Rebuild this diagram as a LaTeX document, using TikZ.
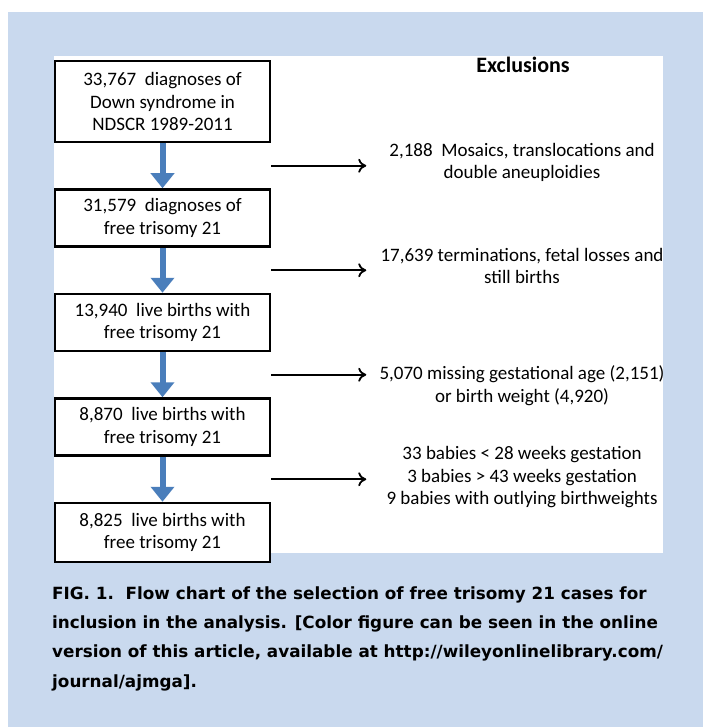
\documentclass[tikz,border=0pt]{standalone}
\usepackage{fontspec}
\setmainfont{Carlito}
\newfontfamily\capfont{DejaVu Sans}
\usepackage{tikz}
\usetikzlibrary{arrows.meta, positioning, calc}
\definecolor{panelblue}{RGB}{201, 217, 238}
\definecolor{flowblue}{RGB}{74, 126, 187}
\tikzstyle{stage} = [rectangle, draw=black, line width=2.5pt, fill=white, minimum width=215pt, minimum height=57pt, align=center, inner sep=0pt]
\tikzstyle{excl} = [align=center]
\tikzstyle{flow} = [draw=flowblue, line width=6pt, -{Triangle[width=23pt,length=15pt]}]
\tikzstyle{arrow} = [line width=1.8pt, -{To[length=8pt,width=14pt]}]

\begin{document}
\begin{tikzpicture}[x=1pt, y=-1pt, node distance=45pt, font=\fontsize{19}{22.5}\selectfont]

\useasboundingbox (0,0) rectangle (703,727);

% Background and panel
\fill[panelblue] (8,12) rectangle (703,727);
\fill[white] (54,56) rectangle (663,553);

% Stages
\node[stage, minimum height=81pt] (census) at (162.5,101.5) {33,767\ \ diagnoses of\\Down syndrome in\\NDSCR 1989-2011};
\node[stage, below=of census] (freet21) {31,579\ \ diagnoses of\\free trisomy 21};
\node[stage, below=of freet21] (live) {13,940\ \ live births with\\free trisomy 21};
\node[stage, below=of live] (complete) {8,870\ \ live births with\\free trisomy 21};
\node[stage, below=of complete, minimum height=59pt] (final) {8,825\ \ live births with\\free trisomy 21};

% Exclusions
\node[font=\fontsize{22}{26}\selectfont\bfseries] (exhead) at (523,65) {Exclusions};
\node[excl] (ex1) at (522,162.5) {2,188\ \ Mosaics, translocations and\\double aneuploidies};
\node[excl] (ex2) at (522,266) {17,639 terminations, fetal losses and\\still births};
\node[excl] (ex3) at (522,385.5) {5,070 missing gestational age (2,151)\\or birth weight (4,920)};
\node[excl] (ex4) at (522,477.5) {33 babies < 28 weeks gestation\\3 babies > 43 weeks gestation\\9 babies with outlying birthweights};

% Arrow ends
\coordinate (s1) at ($(census.south east)!0.5!(freet21.north east)$);
\coordinate (s2) at ($(freet21.south east)!0.5!(live.north east)$);
\coordinate (s3) at ($(live.south east)!0.5!(complete.north east)$);
\coordinate (s4) at ($(complete.south east)!0.5!(final.north east)$);
\coordinate (e1) at ($(s1)+(95,0)$);
\coordinate (e2) at ($(s2)+(95,0)$);
\coordinate (e3) at ($(s3)+(95,0)$);
\coordinate (e4) at ($(s4)+(95,0)$);

% Arrows
\draw[flow] (census) -- (freet21);
\draw[flow] (freet21) -- (live);
\draw[flow] (live) -- (complete);
\draw[flow] (complete) -- (final);
\draw[arrow] (s1) -- (e1);
\draw[arrow] (s2) -- (e2);
\draw[arrow] (s3) -- (e3);
\draw[arrow] (s4) -- (e4);

% Caption
\node[anchor=base west, align=left, inner sep=0pt, font=\capfont\bfseries\fontsize{16.8}{29.3}\selectfont] (caption) at (52,687) {FIG. 1.\ \ Flow chart of the selection of free trisomy 21 cases for\\inclusion in the analysis. [Color figure can be seen in the online\\version of this article, available at http://wileyonlinelibrary.com/\\journal/ajmga].};

\end{tikzpicture}
\end{document}
